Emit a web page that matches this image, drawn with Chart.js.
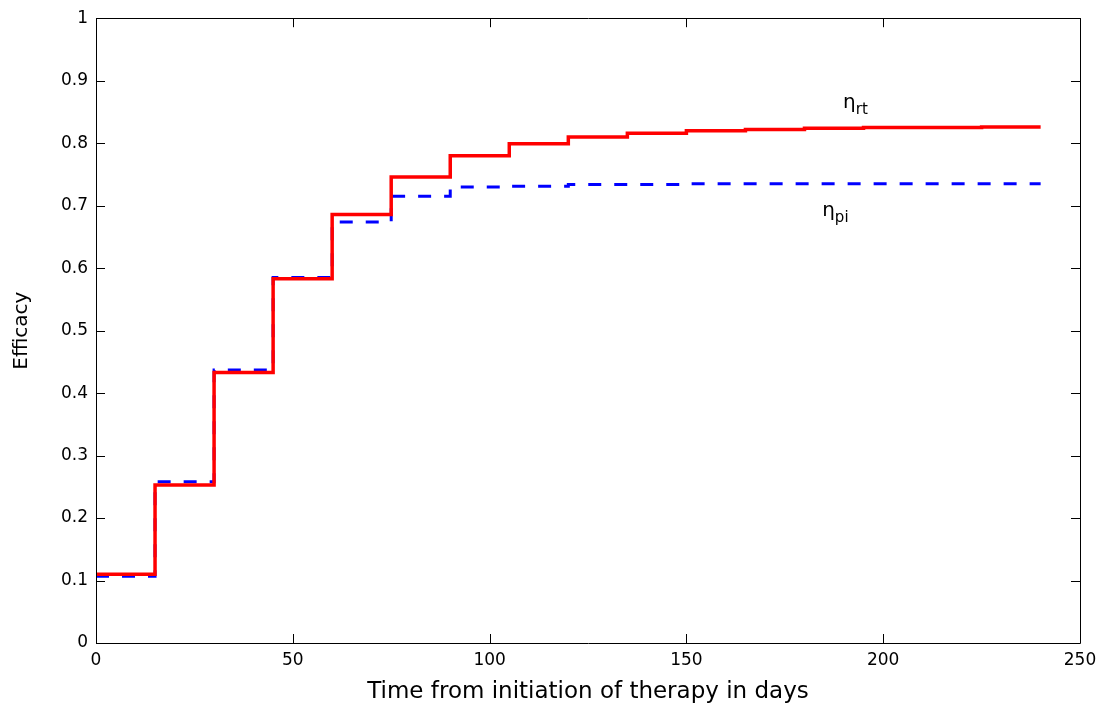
<!DOCTYPE html>
<html>
<head>
<meta charset="utf-8">
<script src="https://cdn.jsdelivr.net/npm/chart.js@4.4.1/dist/chart.umd.min.js"></script>
<style>
  html, body { margin: 0; padding: 0; background: #fff; }
  #wrap { width: 1108px; height: 708px; }
</style>
</head>
<body>
<div id="wrap"><canvas id="c" width="1108" height="708"></canvas></div>
<script>
// Step start times (days)
const stepTimes = [0, 15, 30, 45, 60, 75, 90, 105, 120, 135, 150, 165, 180, 195, 210, 225];
const endTime = 240;
// eta_rt (red, solid)
const etaRT = [0.110, 0.253, 0.433, 0.583, 0.686, 0.746, 0.780, 0.799, 0.810, 0.816, 0.820, 0.822, 0.824, 0.825, 0.825, 0.826];
// eta_pi (blue, dashed)
const etaPI = [0.107, 0.258, 0.437, 0.585, 0.674, 0.715, 0.730, 0.731, 0.734, 0.734, 0.735, 0.735, 0.735, 0.735, 0.735, 0.735];
const xTicks = [0, 50, 100, 150, 200, 250];
const yTicks = [0, 0.1, 0.2, 0.3, 0.4, 0.5, 0.6, 0.7, 0.8, 0.9, 1];

function toPoints(vals) {
  const pts = stepTimes.map((t, i) => ({ x: t, y: vals[i] }));
  pts.push({ x: endTime, y: vals[vals.length - 1] });
  return pts;
}

const FONT = "'DejaVu Sans', 'Liberation Sans', Arial, sans-serif";

const matlabAxes = {
  id: 'matlabAxes',
  afterDatasetsDraw(chart) {
    const { ctx, chartArea: a, scales: { x, y } } = chart;
    ctx.save();
    ctx.strokeStyle = '#000';
    ctx.lineWidth = 1;
    const tl = 9;
    ctx.beginPath();
    xTicks.forEach(v => {
      const px = Math.round(x.getPixelForValue(v)) + 0.5;
      ctx.moveTo(px, a.bottom); ctx.lineTo(px, a.bottom - tl);
      ctx.moveTo(px, a.top); ctx.lineTo(px, a.top + tl);
    });
    yTicks.forEach(v => {
      const py = Math.round(y.getPixelForValue(v)) + 0.5;
      ctx.moveTo(a.left, py); ctx.lineTo(a.left + tl, py);
      ctx.moveTo(a.right, py); ctx.lineTo(a.right - tl, py);
    });
    ctx.stroke();
    ctx.beginPath();
    ctx.rect(Math.round(a.left) + 0.5, Math.round(a.top) + 0.5, Math.round(a.right - a.left), Math.round(a.bottom - a.top));
    ctx.stroke();

    // curve labels
    ctx.fillStyle = '#000';
    ctx.textBaseline = 'alphabetic';
    ctx.textAlign = 'left';
    function subLabel(dx, dy, sub) {
      const px = x.getPixelForValue(dx), py = y.getPixelForValue(dy);
      ctx.font = '20px ' + FONT;
      ctx.fillText('\u03B7', px, py);
      const w = ctx.measureText('\u03B7').width;
      ctx.font = '15px ' + FONT;
      ctx.fillText(sub, px + w, py + 6);
    }
    subLabel(189.8, 0.857, 'rt');
    subLabel(184.5, 0.684, 'pi');
    ctx.restore();
  }
};

new Chart(document.getElementById('c'), {
  type: 'line',
  data: {
    datasets: [
      {
        label: '\u03B7rt',
        data: toPoints(etaRT),
        borderColor: '#ff0000',
        borderWidth: 3.5,
        stepped: 'before',
        pointRadius: 0,
        fill: false
      },
      {
        label: '\u03B7pi',
        data: toPoints(etaPI),
        borderColor: '#0000ff',
        borderWidth: 3,
        borderDash: [13, 13],
        stepped: 'before',
        pointRadius: 0,
        fill: false
      }
    ]
  },
  options: {
    responsive: false,
    animation: false,
    devicePixelRatio: 1,
    layout: { padding: { left: 0, right: 28, top: 14, bottom: 0 } },
    plugins: { legend: { display: false }, tooltip: { enabled: false } },
    scales: {
      x: {
        type: 'linear',
        min: 0, max: 250,
        afterBuildTicks: s => { s.ticks = xTicks.map(v => ({ value: v })); },
        afterFit: s => { s.height = 65; },
        grid: { display: false, drawTicks: false },
        border: { display: false },
        ticks: { color: '#000', padding: 7, font: { family: FONT, size: 17 }, maxRotation: 0, callback: v => String(+v.toFixed(1)) },
        title: { display: true, text: 'Time from initiation of therapy in days', color: '#000', font: { family: FONT, size: 23 }, padding: { top: 0, bottom: 2 } }
      },
      y: {
        type: 'linear',
        min: 0, max: 1,
        afterBuildTicks: s => { s.ticks = yTicks.map(v => ({ value: v })); },
        afterFit: s => { s.width = 96; },
        grid: { display: false, drawTicks: false },
        border: { display: false },
        ticks: { color: '#000', padding: 8, font: { family: FONT, size: 17 }, callback: v => String(+v.toFixed(1)) },
        title: { display: true, text: 'Efficacy', color: '#000', font: { family: FONT, size: 20 }, padding: { top: 10, bottom: 0 } }
      }
    }
  },
  plugins: [matlabAxes]
});
</script>
</body>
</html>
